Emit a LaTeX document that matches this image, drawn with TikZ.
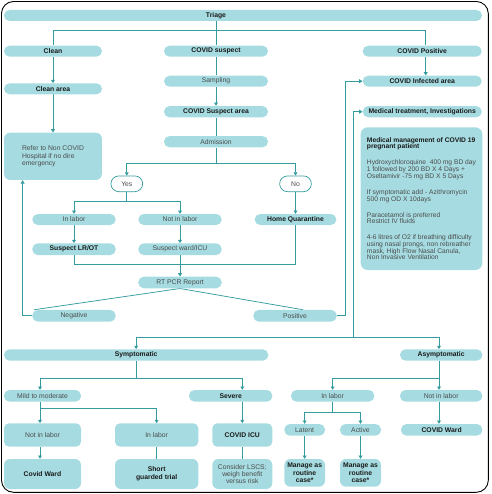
\documentclass[tikz,border=0pt]{standalone}
\usepackage{fontspec}
\setmainfont{Liberation Sans}
\usetikzlibrary{arrows.meta,calc,backgrounds}
\definecolor{boxc}{RGB}{166,220,225}
\definecolor{linec}{RGB}{52,156,158}
\definecolor{txt}{RGB}{25,25,25}
\definecolor{gtxt}{RGB}{75,75,75}
\newcommand\medboxfont{\fontsize{6.7}{6.7}\selectfont\lineskiplimit=-6pt\relax\lineskip=0pt\relax}
\tikzset{
  base/.style={fill=boxc, draw=none, inner sep=0pt, font=\fontsize{6.8}{8}\selectfont, text=gtxt},
  pill/.style={base, rounded corners=5.5pt},
  bpill/.style={pill, font=\fontsize{6.8}{8}\selectfont\bfseries, text=txt},
  rbox/.style={base, rounded corners=5pt, align=center},
  brbox/.style={rbox, font=\fontsize{6.8}{8}\selectfont\bfseries, text=txt},
  yn/.style={fill=white, draw=linec, line width=0.7pt, rounded corners=7.8pt, inner sep=0pt,
     minimum width=31.7pt, minimum height=15.7pt, font=\fontsize{6.8}{8}\selectfont, text=gtxt},
  conn/.style={draw=linec, line width=0.75pt},
  arr/.style={conn, -{Triangle[width=3.8pt,length=3.3pt]}},
}
\begin{document}
\begin{tikzpicture}[x=1pt,y=-1pt]
\useasboundingbox (0,0) rectangle (491,494);
\draw[line width=0.9pt, rounded corners=12pt] (1.5,1.5) rectangle (488.3,492.3);

% top
\node[pill, minimum width=478pt, minimum height=11pt] (triagebar) at (243,15.5) {};
\node[inner sep=0pt, font=\fontsize{6.8}{8}\selectfont\bfseries, text=txt] (triage) at (216,15.5) {Triage};

\node[bpill, minimum width=98pt, minimum height=11pt] (clean) at (53,51.2) {Clean};
\node[bpill, minimum width=104pt, minimum height=11pt] (suspect) at (216,51.2) {COVID suspect};
\node[bpill, minimum width=119pt, minimum height=11pt] (positive) at (422.2,51.2) {COVID Positive};

\node[bpill, minimum width=98pt, minimum height=11pt] (cleanarea) at (53,88.8) {Clean area};
\node[pill, minimum width=104pt, minimum height=11pt] (sampling) at (216,81.2) {Sampling};
\node[bpill, minimum width=119pt, minimum height=11pt] (infected) at (422.2,81.2) {COVID Infected area};

\node[bpill, minimum width=104pt, minimum height=11.3pt] (suspectarea) at (216,111.7) {COVID Suspect area};
\node[bpill, minimum width=119pt, minimum height=11.3pt] (medtreat) at (422.2,111.7) {Medical treatment, Investigations};

\node[base, rounded corners=6pt, minimum width=97.7pt, minimum height=47.3pt, align=left,
  font=\fontsize{6.8}{7.6}\selectfont] (refer) at (53,156.35) {Refer to Non COVID\\Hospital if no dire\\emergency};

\node[pill, minimum width=104pt, minimum height=11.3pt] (admission) at (216,141.7) {Admission};

\node[base, rounded corners=7pt, minimum width=121.6pt, minimum height=142.7pt, align=left,
  font=\medboxfont] (medbox) at (421.5,198.65)
  {{\bfseries\color{txt}Medical management of COVID 19}\\
   {\bfseries\color{txt}pregnant patient}\\[9.3pt]
   Hydroxychloroquine\ \ 400 mg BD day\\
   1 followed by 200 BD X 4 Days +\\
   Oseltamivir -75 mg BD X 5 Days\\[9.3pt]
   If symptomatic add - Azithromycin\\
   500 mg OD X 10days\\[9.3pt]
   Paracetamol is preferred\\
   Restrict IV fluids\\[9.3pt]
   4-6 litres of O2 if breathing difficulty\\
   using nasal prongs, non rebreather\\
   mask, High Flow Nasal Canula,\\
   Non Invasive Ventilation};

\node[yn] (yes) at (126.8,183.8) {Yes};
\node[yn] (no) at (295.5,183.8) {No};

\node[pill, minimum width=83.4pt, minimum height=11pt] (inlabor1) at (74,219.5) {In labor};
\node[pill, minimum width=83.4pt, minimum height=11pt] (notinlabor1) at (180,219.5) {Not in labor};
\node[bpill, minimum width=81.7pt, minimum height=11pt] (homeq) at (295.5,219.5) {Home Quarantine};

\node[bpill, minimum width=83.4pt, minimum height=11.7pt] (lrot) at (74,249.2) {Suspect LR/OT};
\node[pill, minimum width=83.4pt, minimum height=11.7pt] (ward) at (180,249.2) {Suspect ward/ICU};
\node[pill, minimum width=83.4pt, minimum height=11.6pt] (rtpcr) at (180,282.5) {RT PCR Report};
\node[pill, minimum width=83.4pt, minimum height=11.7pt] (negative) at (74,315.8) {Negative};
\node[pill, minimum width=83.4pt, minimum height=11.7pt] (positive2) at (295,315.8) {Positive};

% bottom
\node[bpill, minimum width=264.3pt, minimum height=11.4pt] (symptomatic) at (136.15,355) {Symptomatic};
\node[bpill, minimum width=82.3pt, minimum height=11.4pt] (asym) at (441.15,355) {Asymptomatic};

\node[pill, minimum width=77pt, minimum height=11.7pt] (mild) at (42.5,395.85) {Mild to moderate};
\node[bpill, minimum width=83.3pt, minimum height=11.7pt] (severe) at (230.65,395.85) {Severe};
\node[pill, minimum width=83.3pt, minimum height=11.7pt] (inlabor3) at (332.65,395.85) {In labor};
\node[pill, minimum width=82.3pt, minimum height=11.7pt] (notinlabor3) at (441.15,395.85) {Not in labor};

\node[rbox, minimum width=77pt, minimum height=23.4pt] (notinlabor2) at (42.5,435) {Not in labor};
\node[rbox, minimum width=83.3pt, minimum height=23.4pt] (inlabor2) at (156.65,435) {In labor};
\node[brbox, minimum width=60pt, minimum height=23.4pt] (icu) at (242.3,435) {COVID ICU};

\node[pill, minimum width=40.7pt, minimum height=11.7pt] (latent) at (304.65,429.85) {Latent};
\node[pill, minimum width=41pt, minimum height=11.7pt] (active) at (360.5,429.85) {Active};
\node[bpill, minimum width=81.3pt, minimum height=11.7pt] (covidward2) at (441.65,429.85) {COVID Ward};

\node[brbox, rounded corners=6pt, minimum width=77pt, minimum height=30pt] (covidward1) at (42.5,474) {Covid Ward};
\node[brbox, rounded corners=6pt, minimum width=83.3pt, minimum height=30pt, font=\fontsize{6.8}{8}\selectfont\bfseries] (shortg) at (156.65,474) {Short\\guarded trial};
\node[rbox, rounded corners=6pt, minimum width=60pt, minimum height=30pt, font=\fontsize{6.8}{7.4}\selectfont] (lscs) at (242.3,474) {Consider LSCS;\\weigh benefit\\versus risk};
\node[brbox, rounded corners=6pt, minimum width=40.7pt, minimum height=27.7pt, font=\fontsize{6.8}{7.5}\selectfont\bfseries] (manage1) at (304.65,472.85) {Manage as\\routine\\case*};
\node[brbox, rounded corners=6pt, minimum width=41pt, minimum height=27.7pt, font=\fontsize{6.8}{7.5}\selectfont\bfseries] (manage2) at (360.5,472.85) {Manage as\\routine\\case*};

% helper coordinates
\coordinate (y1) at (0,30.7);
\coordinate (y2) at (0,163.3);
\coordinate (y3) at (0,201);
\coordinate (y4) at (0,264.3);
\coordinate (j3) at (353.3,337.3);
\coordinate (y5) at (0,378.3);
\coordinate (y6) at (0,408.3);
\coordinate (y7) at (0,412.3);
\coordinate (xm) at (40,0);
\coordinate (xs) at (242.3,0);
\coordinate (xa) at (439,0);
\coordinate (xp) at (425.7,0);

\begin{scope}[on background layer]
\draw[conn] (triage.south) -- (suspect.north);
\draw[conn] (clean.north) |- (xp |- y1) -- (xp |- positive.north);
\draw[arr] (clean) -- (cleanarea);
\draw[arr] (cleanarea) -- (refer);
\draw[conn] (suspect) -- (sampling);
\draw[arr] (sampling) -- (suspectarea);
\draw[conn] (suspectarea) -- (admission);
\draw[arr] (admission.south) |- (yes.north |- y2) -- (yes.north);
\draw[arr] (admission.south) |- (no.north |- y2) -- (no.north);
\draw[arr] (xp |- positive.south) -- (xp |- infected.north);
\draw[arr] (yes.south) |- (inlabor1.north |- y3) -- (inlabor1.north);
\draw[arr] (yes.south) |- (notinlabor1.north |- y3) -- (notinlabor1.north);
\draw[arr] (no) -- (homeq);
\draw[arr] (inlabor1) -- (lrot);
\draw[arr] (notinlabor1) -- (ward);
\draw[conn] (lrot.south) |- (homeq.south |- y4) -- (homeq.south);
\draw[arr] (ward) -- (rtpcr);
\draw[conn] (rtpcr.south) -- ($(negative.north west)+(2,0)$);
\draw[conn] (rtpcr.south) -- ($(positive2.north)+(8,0)$);
\draw[arr] (negative.west) -| ($(refer.south west)+(18.7,0)$);
\draw[arr] (positive2.east) -| ($(infected.west)+(-16.7,0)$) -- (infected.west);
\draw[arr] (j3) |- (medtreat.west);
\draw[arr] (j3) -| (symptomatic.north);
\draw[arr] (j3) -| ($(asym.north)+(-2.15,0)$);

\draw[arr] (symptomatic.south) |- (xm |- y5) -- (xm |- mild.north);
\draw[arr] (symptomatic.south) |- (xs |- y5) -- (xs |- severe.north);
\draw[arr] (xs |- severe.south) -- (icu.north);
\draw[conn] (icu) -- (lscs);
\draw[arr] (xm |- mild.south) |- (inlabor2.north |- y6) -- (inlabor2.north);
\draw[arr] (xm |- mild.south) -- (xm |- notinlabor2.north);
\draw[arr] (xm |- notinlabor2.south) -- (xm |- covidward1.north);
\draw[conn] (inlabor2) -- (shortg);
\draw[arr] (xa |- asym.south) |- (inlabor3.north |- y5) -- (inlabor3.north);
\draw[arr] (xa |- asym.south) -- (xa |- notinlabor3.north);
\draw[arr] (inlabor3.south) |- (latent.north |- y7) -- (latent.north);
\draw[arr] (inlabor3.south) |- (active.north |- y7) -- (active.north);
\draw[arr] (latent) -- (manage1);
\draw[arr] (active) -- (manage2);
\draw[arr] (xa |- notinlabor3.south) -- (xa |- covidward2.north);
\end{scope}
\end{tikzpicture}
\end{document}
